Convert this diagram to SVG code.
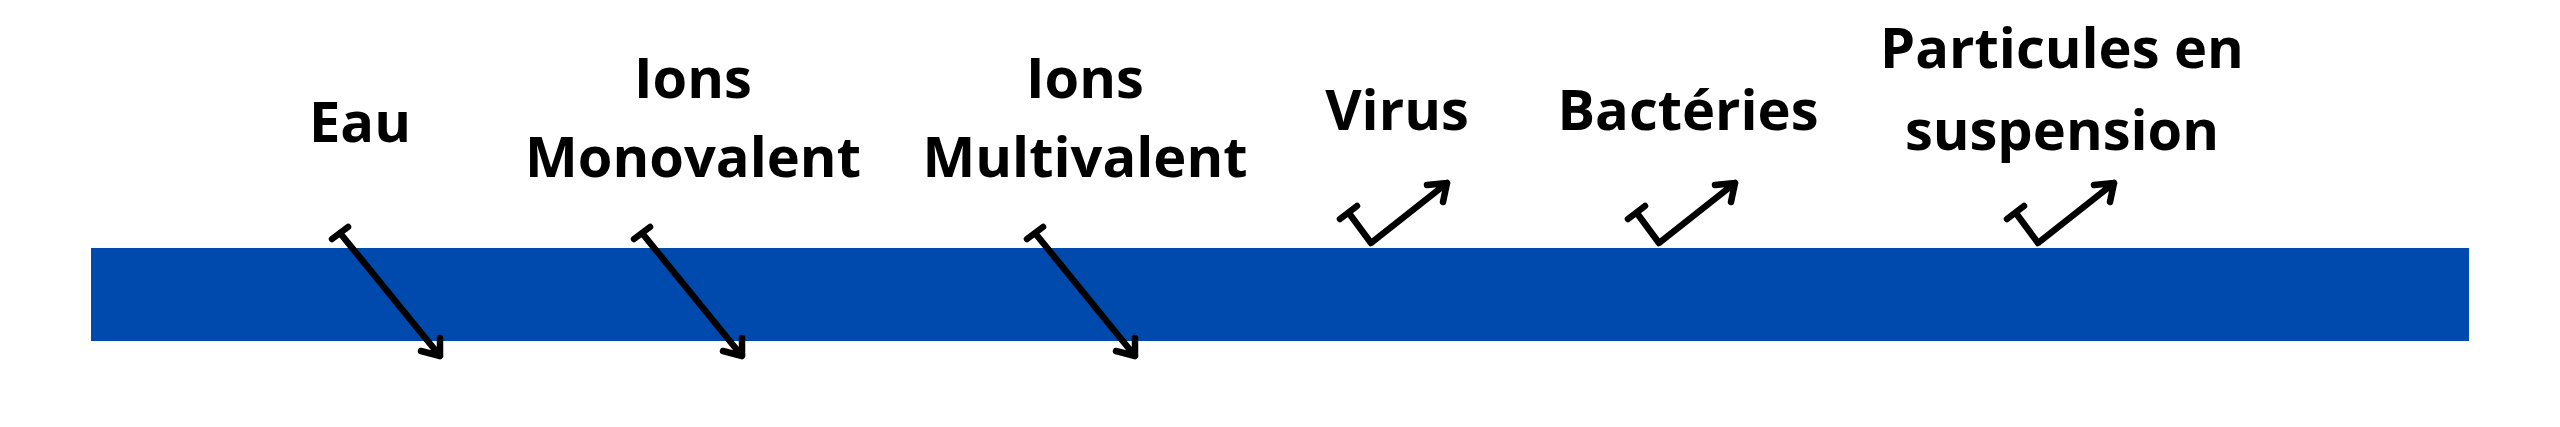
<svg xmlns="http://www.w3.org/2000/svg" width="2560" height="427" viewBox="0 0 2560 427">
<style>
text { font-family: "Open Sans", "Liberation Sans", sans-serif; font-weight: 700; font-size: 56px; fill: #000000; text-anchor: middle; }
.c { fill: none; stroke: #000000; stroke-width: 6.5; stroke-linecap: round; stroke-linejoin: round; }
</style>
<rect x="0" y="0" width="2560" height="427" fill="#ffffff"/>
<g id="membrane">
<rect x="91" y="248" width="2378" height="93" fill="#004AAD"/>
</g>
<g id="eau"><text x="360" y="142">Eau</text></g>
<g id="ions-monovalent"><text x="693" y="98">Ions</text><text x="693" y="177">Monovalent</text></g>
<g id="ions-multivalent"><text x="1085" y="98">Ions</text><text x="1085" y="177">Multivalent</text></g>
<g id="virus"><text x="1397" y="130">Virus</text></g>
<g id="bacteries"><text x="1688" y="130">Bactéries</text></g>
<g id="particules"><text x="2062" y="68">Particules en</text><text x="2062" y="150">suspension</text></g>
<g id="connectors">
<path class="c" d="M332,239 L348,227 M340,233 L440,356 M421,351 L440,356 L440,338"/>
<path class="c" d="M634,239 L650,227 M642,233 L742,356 M723,351 L742,356 L742,338"/>
<path class="c" d="M1027,239 L1043,227 M1035,233 L1135,356 M1116,351 L1135,356 L1135,338"/>
<path class="c" d="M1340,219 L1357,206 M1348.5,212.5 L1371,243 L1447,183 M1427,185 L1447,183 L1443,202"/>
<path class="c" d="M1628,219 L1645,206 M1636.5,212.5 L1659,243 L1735,183 M1715,185 L1735,183 L1731,202"/>
<path class="c" d="M2007,219 L2024,206 M2015.5,212.5 L2038,243 L2114,183 M2094,185 L2114,183 L2110,202"/>
</g>
</svg>
